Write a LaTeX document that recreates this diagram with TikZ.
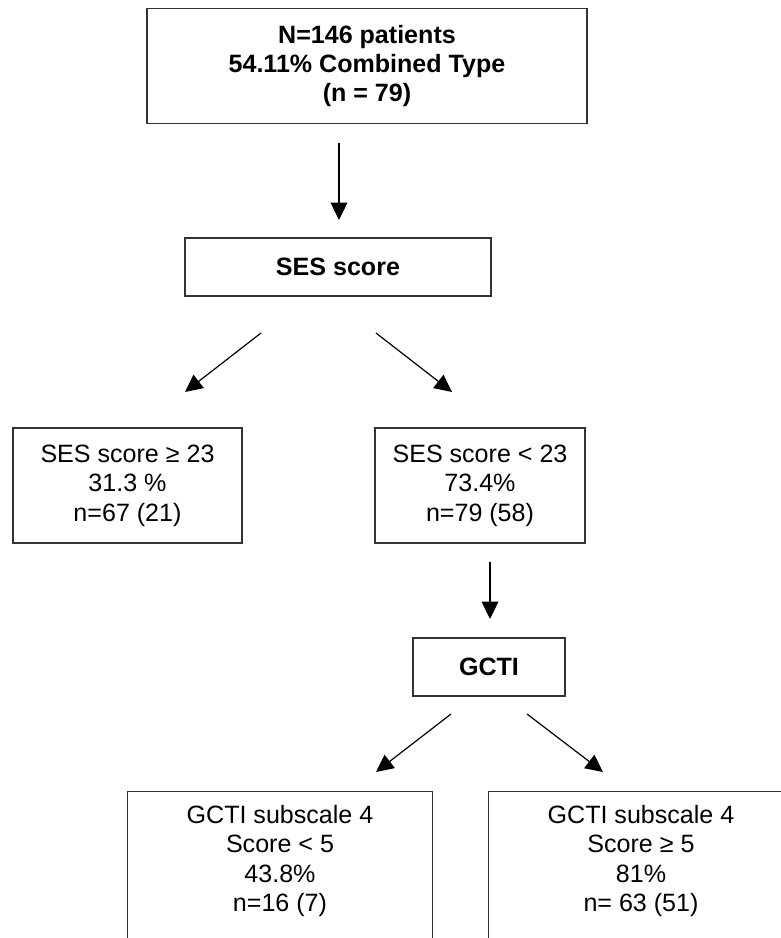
\documentclass[tikz,border=0pt]{standalone}
\usepackage{fontspec}
\setmainfont{Liberation Sans}
\usetikzlibrary{arrows.meta}

\begin{document}
\begin{tikzpicture}[x=0.75pt, y=-0.75pt, >={Triangle[length=13pt, width=12.5pt]}]

  % Styles
  \tikzset{
    box/.style={draw=black!80, line width=1pt, inner sep=0pt, align=center,
      font=\fontsize{18.8pt}{22.1pt}\selectfont},
    head box/.style={box, font=\fontsize{18.8pt}{22.1pt}\selectfont\bfseries},
    leaf box/.style={box, anchor=north, minimum width=228.75pt,
      inner ysep=10pt, text depth=40pt},
    arrow line/.style={->, line width=0.9pt}
  }

  \useasboundingbox (0,0) rectangle (781,938);

  % --- BOXES ---
  \node[head box, minimum width=330pt, minimum height=86.25pt] (total) at (367,66)
    {N=146 patients\\54.11\% Combined Type\\(n = 79)};
  \node[head box, minimum width=229.5pt, minimum height=43.5pt] (ses) at (338,267) {SES score};

  % SES split
  \node[box, minimum width=171.75pt, minimum height=86.25pt] (seshigh) at (127.5,485.5)
    {SES score ≥ 23\\31.3 \%\\n=67 (21)};
  \node[box, minimum width=157.5pt, minimum height=86.25pt] (seslow) at (480,485.5)
    {SES score < 23\\73.4\%\\n=79 (58)};

  \node[head box, minimum width=114pt, minimum height=43.5pt] (gcti) at (489,667) {GCTI};

  % GCTI split (boxes run past the lower edge)
  \node[leaf box] (gctilow) at (280,791)
    {GCTI subscale 4\\Score < 5\\43.8\%\\n=16 (7)};
  \node[leaf box] (gctihigh) at (641,791)
    {GCTI subscale 4\\Score ≥ 5\\81\%\\n= 63 (51)};

  % --- ARROW ENDS ---
  \coordinate (a0) at (339,143);  \coordinate (b0) at (339,220);
  \coordinate (a1) at (261,333);  \coordinate (b1) at (185,392);
  \coordinate (a2) at (376,333);  \coordinate (b2) at (452,392);
  \coordinate (a3) at (490,562);  \coordinate (b3) at (490,619);
  \coordinate (a4) at (451,714);  \coordinate (b4) at (376,772);
  \coordinate (a5) at (527,714);  \coordinate (b5) at (603,772);

  % --- CONNECTIONS ---
  \draw[arrow line] (a0) -- (b0);
  \draw[arrow line] (a1) -- (b1);
  \draw[arrow line] (a2) -- (b2);
  \draw[arrow line] (a3) -- (b3);
  \draw[arrow line] (a4) -- (b4);
  \draw[arrow line] (a5) -- (b5);

\end{tikzpicture}
\end{document}
